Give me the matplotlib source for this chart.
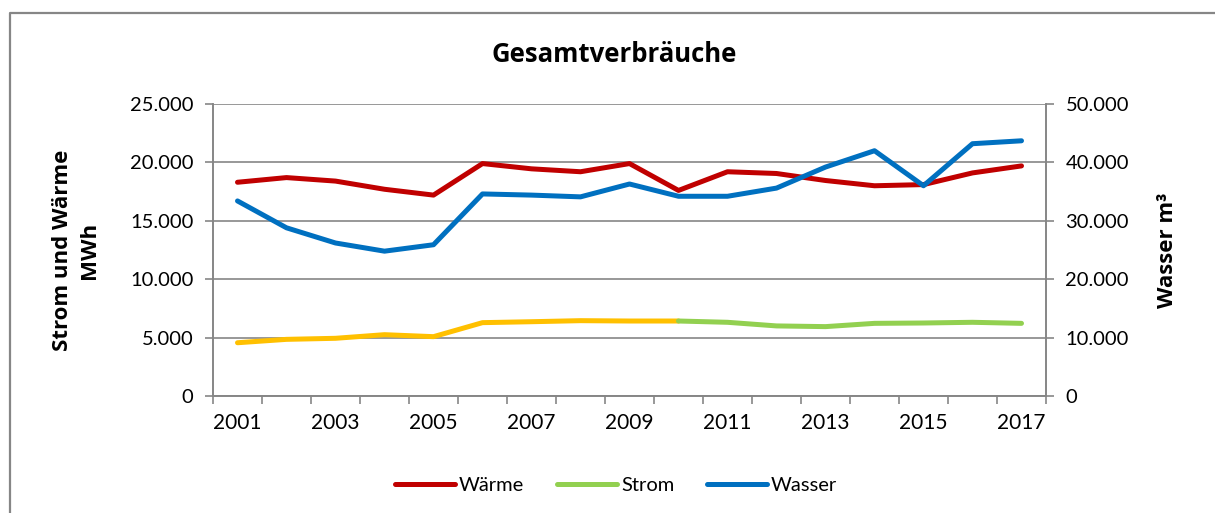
import matplotlib.pyplot as plt
import matplotlib as mpl
from matplotlib.ticker import FuncFormatter, FixedLocator
from matplotlib.lines import Line2D

mpl.rcParams["font.family"] = ["Lato", "DejaVu Sans"]

years = list(range(2001, 2018))
waerme = [18300, 18700, 18400, 17700, 17200, 19900, 19450, 19200, 19900, 17600,
          19200, 19050, 18450, 18000, 18100, 19100, 19700]
strom = [4560, 4850, 4940, 5250, 5080, 6280, 6360, 6450, 6420, 6420,
         6310, 6000, 5940, 6220, 6250, 6310, 6220]
wasser = [33400, 28800, 26200, 24800, 25900, 34600, 34400, 34100, 36300, 34200,
          34200, 35600, 39200, 42000, 36000, 43200, 43700]
split = 9  # Strom drawn yellow up to 2010, green afterwards

c_waerme = "#C00000"
c_strom_old = "#FFC000"
c_strom = "#92D050"
c_wasser = "#0070C0"
grid_c = "#868686"
bold_font = ["Open Sans", "DejaVu Sans"]

fmt = FuncFormatter(lambda v, p: f"{int(v):,}".replace(",", "."))

fig = plt.figure(figsize=(12.15, 5.13), dpi=100)
# outer chart border (only left and top edges are inside the picture)
fig.lines.append(Line2D([9.5 / 1215, 9.5 / 1215, 1.0], [0.0, 1 - 12.5 / 513, 1 - 12.5 / 513],
                        transform=fig.transFigure, color=grid_c, lw=1.6))
ax = fig.add_axes([213 / 1215, 1 - 396 / 513, 833 / 1215, 292 / 513])
ax2 = ax.twinx()

x = list(range(len(years)))
ax.plot(x, waerme, color=c_waerme, lw=3.6, solid_capstyle="round")
ax.plot(x[:split + 1], strom[:split + 1], color=c_strom_old, lw=3.6, solid_capstyle="round")
ax.plot(x[split:], strom[split:], color=c_strom, lw=3.6, solid_capstyle="round")
ax2.plot(x, wasser, color=c_wasser, lw=3.6, solid_capstyle="round")

ax.set_xlim(-0.5, len(years) - 0.5)
ax.set_ylim(0, 25000)
ax2.set_ylim(0, 50000)
ax.set_yticks(range(0, 25001, 5000))
ax2.set_yticks(range(0, 50001, 10000))
ax.yaxis.set_major_formatter(fmt)
ax2.yaxis.set_major_formatter(fmt)
ax.grid(axis="y", color=grid_c, lw=1.2)
ax.set_axisbelow(True)

ax.xaxis.set_major_locator(FixedLocator(x[::2]))
ax.set_xticklabels([str(y) for y in years[::2]])
ax.xaxis.set_minor_locator(FixedLocator([i - 0.5 for i in range(len(years) + 1)]))
ax.tick_params(axis="x", which="major", length=0, pad=12, labelsize=15)
ax.tick_params(axis="x", which="minor", length=6, color=grid_c, width=1.2)
ax.tick_params(axis="y", length=6, color=grid_c, width=1.2, labelsize=14.5, pad=8)
ax2.tick_params(axis="y", length=6, color=grid_c, width=1.2, labelsize=14.5, pad=8)

for a in (ax, ax2):
    for s in a.spines.values():
        s.set_color(grid_c)
        s.set_linewidth(1.2)
    a.spines["top"].set_visible(False)

ax.set_ylabel("Strom und Wärme\nMWh", fontsize=16, fontweight="bold",
              family=bold_font, labelpad=22, linespacing=1.35)
ax2.set_ylabel("Wasser m³", fontsize=16, fontweight="bold",
               family=bold_font, labelpad=20)
fig.text(614 / 1215, 1 - 55 / 513, "Gesamtverbräuche", ha="center", va="center",
         fontsize=18.5, fontweight="bold", family=bold_font)

handles = [Line2D([], [], color=c_waerme, lw=3.6, solid_capstyle="round"),
           Line2D([], [], color=c_strom, lw=3.6, solid_capstyle="round"),
           Line2D([], [], color=c_wasser, lw=3.6, solid_capstyle="round")]
fig.legend(handles, ["Wärme", "Strom", "Wasser"], loc="center",
           bbox_to_anchor=(616 / 1215, 1 - 485 / 513), ncol=3, frameon=False,
           fontsize=14.5, handlelength=3, handletextpad=0.2, columnspacing=1.6)

fig.savefig("out.png", dpi=100)
